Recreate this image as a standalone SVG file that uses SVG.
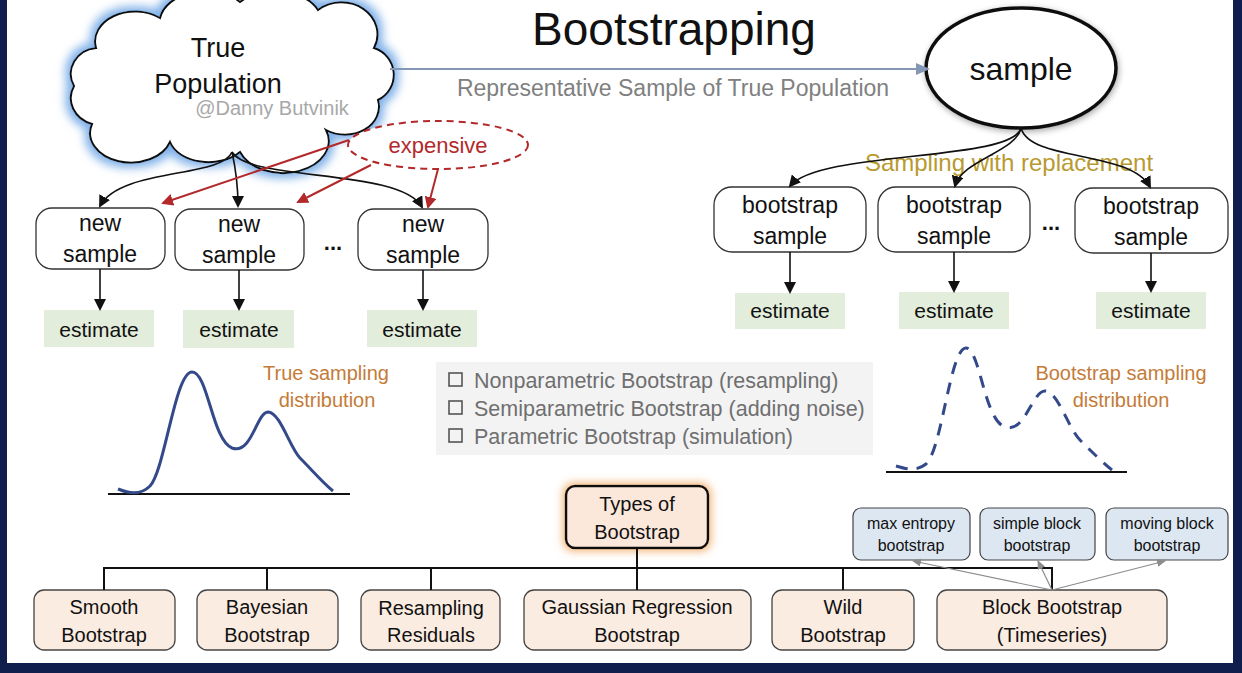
<svg xmlns="http://www.w3.org/2000/svg" width="1242" height="673" viewBox="0 0 1242 673">
<defs>
<style>
text{font-family:"Liberation Sans",Arial,sans-serif;text-anchor:middle;fill:#111}
.box{fill:#fff;stroke:#333;stroke-width:1.3}
.est{fill:#e3eddb}
.t23{font-size:23px}
.t21{font-size:21px}
.t20{font-size:20px}
.t16{font-size:16px}
.orange{fill:#c47b38}
.bt{fill:#fbece1;stroke:#444;stroke-width:1.3}
.blue{fill:#dde7f2;stroke:#444;stroke-width:1.2}
.conn{fill:none;stroke:#111;stroke-width:1.6}
.red{fill:none;stroke:#b3292b;stroke-width:2}
.gray{fill:none;stroke:#8c8c8c;stroke-width:1.2}
.chk{fill:#6f6f6f;font-size:21.5px;text-anchor:start}
</style>
<marker id="ah" markerWidth="12" markerHeight="12" refX="10" refY="6" orient="auto" markerUnits="userSpaceOnUse"><path d="M0,0 L12,6 L0,12 Z" fill="#111"/></marker>
<marker id="ahr" markerWidth="12" markerHeight="12" refX="10" refY="6" orient="auto" markerUnits="userSpaceOnUse"><path d="M0,0 L12,6 L0,12 Z" fill="#b3292b"/></marker>
<marker id="ahb" markerWidth="14" markerHeight="12" refX="12" refY="6" orient="auto" markerUnits="userSpaceOnUse"><path d="M0,0 L14,6 L0,12 Z" fill="#8497b5"/></marker>
<marker id="ahg" markerWidth="9" markerHeight="8" refX="8" refY="4" orient="auto" markerUnits="userSpaceOnUse"><path d="M0,0 L9,4 L0,8 Z" fill="#8c8c8c"/></marker>
<filter id="glow" x="-20%" y="-20%" width="140%" height="140%">
<feMorphology in="SourceAlpha" operator="dilate" radius="4" result="d"/>
<feGaussianBlur in="d" stdDeviation="5" result="b"/>
<feFlood flood-color="#7fb0e8"/>
<feComposite in2="b" operator="in" result="g"/>
<feMerge><feMergeNode in="g"/><feMergeNode in="SourceGraphic"/></feMerge>
</filter>
<filter id="shadow" x="-20%" y="-20%" width="140%" height="140%">
<feGaussianBlur in="SourceAlpha" stdDeviation="3" result="b"/>
<feOffset dx="1" dy="2" in="b" result="o"/>
<feFlood flood-color="#000" flood-opacity="0.35"/>
<feComposite in2="o" operator="in" result="s"/>
<feMerge><feMergeNode in="s"/><feMergeNode in="SourceGraphic"/></feMerge>
</filter>
<filter id="oglow" x="-30%" y="-30%" width="160%" height="160%">
<feMorphology in="SourceAlpha" operator="dilate" radius="2" result="d"/>
<feGaussianBlur in="d" stdDeviation="4" result="b"/>
<feFlood flood-color="#f3b57a"/>
<feComposite in2="b" operator="in" result="g"/>
<feMerge><feMergeNode in="g"/><feMergeNode in="SourceGraphic"/></feMerge>
</filter>
</defs>
<rect width="1242" height="673" fill="#fff"/>
<!-- frame -->
<rect x="0" y="0" width="7" height="673" fill="#0f1e4d"/>
<rect x="1233" y="0" width="9" height="673" fill="#0f1e4d"/>
<rect x="0" y="663" width="1242" height="10" fill="#0f1e4d"/>

<g id="title"><text x="674" y="45" style="font-size:46px">Bootstrapping</text></g>

<g id="cloud">
<path d="M92,124 A30,27 0 0 1 74,86 A28,26 0 0 1 96,48 A40,30 0 0 1 160,18 A46,32 0 0 1 240,2 A46,30 0 0 1 318,10 A36,32 0 0 1 374,48 A28,28 0 0 1 378,100 A34,28 0 0 1 326,130 A40,28 0 0 1 240,152 A40,27 0 0 1 170,142 A36,26 0 0 1 92,124 Z" fill="#fff" stroke="#111" stroke-width="2" filter="url(#glow)"/>
<text x="218" y="57" style="font-size:27px">True</text>
<text x="218" y="93" style="font-size:27px">Population</text>
<text x="272" y="115" style="font-size:20px;fill:#a8a8a8">@Danny Butvinik</text>
</g>

<g id="sample">
<ellipse cx="1021" cy="68" rx="95" ry="60" fill="#fff" stroke="#111" stroke-width="3.5" filter="url(#shadow)"/>
<text x="1021" y="80" style="font-size:32px">sample</text>
</g>

<g id="expensive">
<ellipse cx="438" cy="145" rx="90" ry="24" fill="#fff" stroke="#b3292b" stroke-width="2" stroke-dasharray="7,5"/>
<text x="438" y="153" style="font-size:22px;fill:#b3292b">expensive</text>
</g>

<g id="rep-label"><text x="673" y="96" style="font-size:23px;fill:#808080">Representative Sample of True Population</text></g>
<g id="swr-label"><text x="1009" y="171" style="font-size:24px;fill:#b89a30">Sampling with replacement</text></g>

<g id="new1"><rect class="box" x="36" y="208" width="129" height="61" rx="16"/><text class="t23" x="100" y="231">new</text><text class="t23" x="100" y="262">sample</text></g>
<g id="new2"><rect class="box" x="175" y="209" width="129" height="61" rx="16"/><text class="t23" x="239" y="232">new</text><text class="t23" x="239" y="263">sample</text></g>
<g id="new3"><rect class="box" x="358" y="209" width="130" height="61" rx="16"/><text class="t23" x="423" y="232">new</text><text class="t23" x="423" y="263">sample</text></g>
<g id="dots1"><text x="333" y="250" style="font-size:22px;font-weight:bold">...</text></g>

<g id="est1"><rect class="est" x="44" y="310" width="110" height="37"/><text class="t21" x="99" y="337">estimate</text></g>
<g id="est2"><rect class="est" x="183" y="310" width="111" height="38"/><text class="t21" x="239" y="337">estimate</text></g>
<g id="est3"><rect class="est" x="367" y="310" width="110" height="37"/><text class="t21" x="422" y="337">estimate</text></g>

<g id="boot1"><rect class="box" x="714" y="187" width="152" height="65" rx="18"/><text class="t23" x="790" y="213">bootstrap</text><text class="t23" x="790" y="244">sample</text></g>
<g id="boot2"><rect class="box" x="878" y="187" width="152" height="65" rx="18"/><text class="t23" x="954" y="213">bootstrap</text><text class="t23" x="954" y="244">sample</text></g>
<g id="boot3"><rect class="box" x="1075" y="188" width="153" height="65" rx="18"/><text class="t23" x="1151" y="214">bootstrap</text><text class="t23" x="1151" y="245">sample</text></g>
<g id="dots2"><text x="1051" y="230" style="font-size:22px;font-weight:bold">...</text></g>

<g id="best1"><rect class="est" x="735" y="293" width="110" height="36"/><text class="t21" x="790" y="318">estimate</text></g>
<g id="best2"><rect class="est" x="899" y="292" width="110" height="37"/><text class="t21" x="954" y="318">estimate</text></g>
<g id="best3"><rect class="est" x="1096" y="292" width="110" height="37"/><text class="t21" x="1151" y="318">estimate</text></g>

<g id="true-dist">
<line x1="108" y1="494" x2="350" y2="494" stroke="#111" stroke-width="2"/>
<path d="M118,489 C128,493 140,496 150,486 C165,470 175,372 192,372 C208,372 212,440 232,448 C252,455 256,413 268,412 C280,412 290,448 300,458 C312,470 322,482 333,491" fill="none" stroke="#33498a" stroke-width="3"/>
<text class="t20 orange" x="326" y="380">True sampling</text>
<text class="t20 orange" x="327" y="407">distribution</text>
</g>

<g id="boot-dist">
<line x1="886" y1="472" x2="1127" y2="472" stroke="#111" stroke-width="2"/>
<path d="M896,466 C906,469 916,472 926,464 C942,450 950,348 966,348 C980,348 984,420 1005,427 C1025,434 1032,391 1045,391 C1058,391 1068,428 1080,440 C1092,452 1102,462 1112,470" fill="none" stroke="#33498a" stroke-width="3" stroke-dasharray="12,9"/>
<text class="t20 orange" x="1121" y="380">Bootstrap sampling</text>
<text class="t20 orange" x="1121" y="407">distribution</text>
</g>

<g id="checklist">
<rect x="436" y="362" width="437" height="93" fill="#f3f3f4"/>
<rect x="449" y="373" width="13" height="13" fill="none" stroke="#555" stroke-width="1.6"/>
<rect x="449" y="401" width="13" height="13" fill="none" stroke="#555" stroke-width="1.6"/>
<rect x="449" y="429" width="13" height="13" fill="none" stroke="#555" stroke-width="1.6"/>
<text class="chk" x="474" y="388">Nonparametric Bootstrap (resampling)</text>
<text class="chk" x="474" y="416">Semiparametric Bootstrap (adding noise)</text>
<text class="chk" x="474" y="444">Parametric Bootstrap (simulation)</text>
</g>

<g id="types">
<rect x="566" y="486" width="142" height="62" rx="9" fill="#fbe8da" stroke="#111" stroke-width="2.5" filter="url(#oglow)"/>
<text class="t20" x="637" y="511">Types of</text>
<text class="t20" x="637" y="539">Bootstrap</text>
</g>

<g id="smooth"><rect class="bt" x="34" y="590" width="141" height="60" rx="10"/><text class="t20" x="104" y="614">Smooth</text><text class="t20" x="104" y="642">Bootstrap</text></g>
<g id="bayesian"><rect class="bt" x="197" y="590" width="141" height="60" rx="10"/><text class="t20" x="267" y="614">Bayesian</text><text class="t20" x="267" y="642">Bootstrap</text></g>
<g id="residuals"><rect class="bt" x="361" y="590" width="139" height="60" rx="10"/><text class="t20" x="431" y="615">Resampling</text><text class="t20" x="431" y="642">Residuals</text></g>
<g id="gaussian"><rect class="bt" x="524" y="590" width="227" height="60" rx="10"/><text class="t20" x="637" y="614">Gaussian Regression</text><text class="t20" x="637" y="642">Bootstrap</text></g>
<g id="wild"><rect class="bt" x="772" y="590" width="142" height="60" rx="10"/><text class="t20" x="843" y="614">Wild</text><text class="t20" x="843" y="642">Bootstrap</text></g>
<g id="block"><rect class="bt" x="937" y="590" width="230" height="60" rx="10"/><text class="t20" x="1052" y="614">Block Bootstrap</text><text class="t20" x="1052" y="642">(Timeseries)</text></g>

<g id="maxent"><rect class="blue" x="853" y="508" width="117" height="52" rx="8"/><text class="t16" x="911" y="529">max entropy</text><text class="t16" x="911" y="551">bootstrap</text></g>
<g id="simple"><rect class="blue" x="980" y="508" width="115" height="52" rx="8"/><text class="t16" x="1037" y="529">simple block</text><text class="t16" x="1037" y="551">bootstrap</text></g>
<g id="moving"><rect class="blue" x="1106" y="508" width="122" height="52" rx="8"/><text class="t16" x="1167" y="529">moving block</text><text class="t16" x="1167" y="551">bootstrap</text></g>

<g id="connectors">
<line x1="390" y1="69" x2="928" y2="69" stroke="#8497b5" stroke-width="2" marker-end="url(#ahb)"/>
<path class="conn" d="M232,152 C222,178 120,168 100,206" marker-end="url(#ah)"/>
<path class="conn" d="M232,152 C236,170 238,185 238,206" marker-end="url(#ah)"/>
<path class="conn" d="M232,152 C250,182 400,168 422,207" marker-end="url(#ah)"/>
<line class="red" x1="349" y1="140" x2="163" y2="203" marker-end="url(#ahr)"/>
<line class="red" x1="371" y1="165" x2="298" y2="202" marker-end="url(#ahr)"/>
<line class="red" x1="438" y1="169" x2="428" y2="207" marker-end="url(#ahr)"/>
<path class="conn" d="M1021,128 C1012,162 820,150 790,186" marker-end="url(#ah)"/>
<path class="conn" d="M1021,128 C1016,152 962,160 955,186" marker-end="url(#ah)"/>
<path class="conn" d="M1021,128 C1030,162 1130,150 1150,187" marker-end="url(#ah)"/>
<line class="conn" x1="100" y1="269" x2="100" y2="309" marker-end="url(#ah)"/>
<line class="conn" x1="239" y1="270" x2="239" y2="309" marker-end="url(#ah)"/>
<line class="conn" x1="423" y1="270" x2="423" y2="309" marker-end="url(#ah)"/>
<line class="conn" x1="790" y1="252" x2="790" y2="292" marker-end="url(#ah)"/>
<line class="conn" x1="954" y1="252" x2="954" y2="291" marker-end="url(#ah)"/>
<line class="conn" x1="1151" y1="253" x2="1151" y2="291" marker-end="url(#ah)"/>
<path fill="none" stroke="#111" stroke-width="2" d="M637,548 V590 M104,590 V568 H1052 V590 M267,568 V590 M431,568 V590 M843,568 V590"/>
<line class="gray" x1="1052" y1="590" x2="913" y2="561" marker-end="url(#ahg)"/>
<line class="gray" x1="1052" y1="590" x2="1038" y2="561" marker-end="url(#ahg)"/>
<line class="gray" x1="1052" y1="590" x2="1165" y2="561" marker-end="url(#ahg)"/>
</g>
</svg>
